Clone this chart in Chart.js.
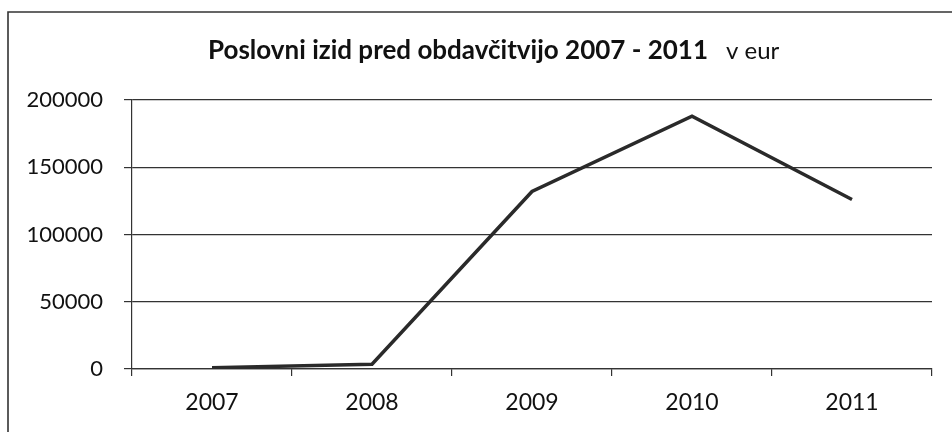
<!DOCTYPE html>
<html><head><meta charset="utf-8">
<script src="https://cdn.jsdelivr.net/npm/chart.js@4/dist/chart.umd.min.js"></script>
<style>html,body{margin:0;padding:0;background:#fff;} #wrap{position:relative;width:952px;height:432px;}</style>
</head><body><div id="wrap"><canvas id="c" width="952" height="432"></canvas></div>
<script>
const categories = ['2007', '2008', '2009', '2010', '2011'];
const values = [1000, 3500, 132000, 188000, 126000];
const yTicks = [0, 50000, 100000, 150000, 200000];
const titleBold = 'Poslovni izid pred obdavčitvijo 2007 - 2011';
const titleUnit = 'v eur';

const FONT = 'Lato, "Liberation Sans", sans-serif';

const framePlugin = {
  id: 'frameTitle',
  beforeDraw(chart) {
    const ctx = chart.ctx;
    ctx.save();
    ctx.fillStyle = '#fff';
    ctx.fillRect(0, 0, chart.width, chart.height);
    ctx.strokeStyle = '#333';
    ctx.lineWidth = 1.6;
    ctx.beginPath();
    ctx.moveTo(8, 440);
    ctx.lineTo(8, 12);
    ctx.lineTo(960, 12);
    ctx.stroke();
    ctx.restore();
  },
  afterDraw(chart) {
    const ctx = chart.ctx;
    ctx.save();
    ctx.fillStyle = '#111';
    ctx.textBaseline = 'alphabetic';
    ctx.textAlign = 'left';
    ctx.font = 'bold 26px ' + FONT;
    const x0 = 208;
    const y0 = 59;
    ctx.fillText(titleBold, x0, y0);
    const w = ctx.measureText(titleBold).width;
    ctx.font = '24px ' + FONT;
    ctx.fillText(titleUnit, x0 + w + 18, y0);
    ctx.restore();
  }
};

new Chart(document.getElementById('c'), {
  type: 'line',
  data: {
    labels: categories,
    datasets: [{
      data: values,
      borderColor: '#2a2a2a',
      borderWidth: 3.5,
      pointRadius: 0,
      tension: 0,
      fill: false
    }]
  },
  options: {
    responsive: false,
    animation: false,
    devicePixelRatio: 1,
    layout: { padding: { left: 0, right: 20, top: 100, bottom: 0 } },
    plugins: { legend: { display: false }, tooltip: { enabled: false }, title: { display: false } },
    scales: {
      x: {
        offset: true,
        grid: { offset: true, drawOnChartArea: false, drawTicks: true, tickLength: 7, color: '#333', lineWidth: 1.2 },
        border: { display: true, color: '#333', width: 1.2 },
        ticks: { color: '#111', font: { family: FONT, size: 23 }, padding: 13, maxRotation: 0 },
        afterFit(s) { s.height = 63; }
      },
      y: {
        min: yTicks[0],
        max: yTicks[yTicks.length - 1],
        afterBuildTicks(s) { s.ticks = yTicks.map(v => ({ value: v })); },
        grid: { color: '#333', lineWidth: 1.2, drawTicks: true, tickLength: 8 },
        border: { display: true, color: '#333', width: 1.2 },
        ticks: { color: '#111', font: { family: FONT, size: 22 }, padding: 21, callback: (v) => String(v) },
        afterFit(s) { s.width = 132; }
      }
    }
  },
  plugins: [framePlugin]
});
</script>
</body></html>
